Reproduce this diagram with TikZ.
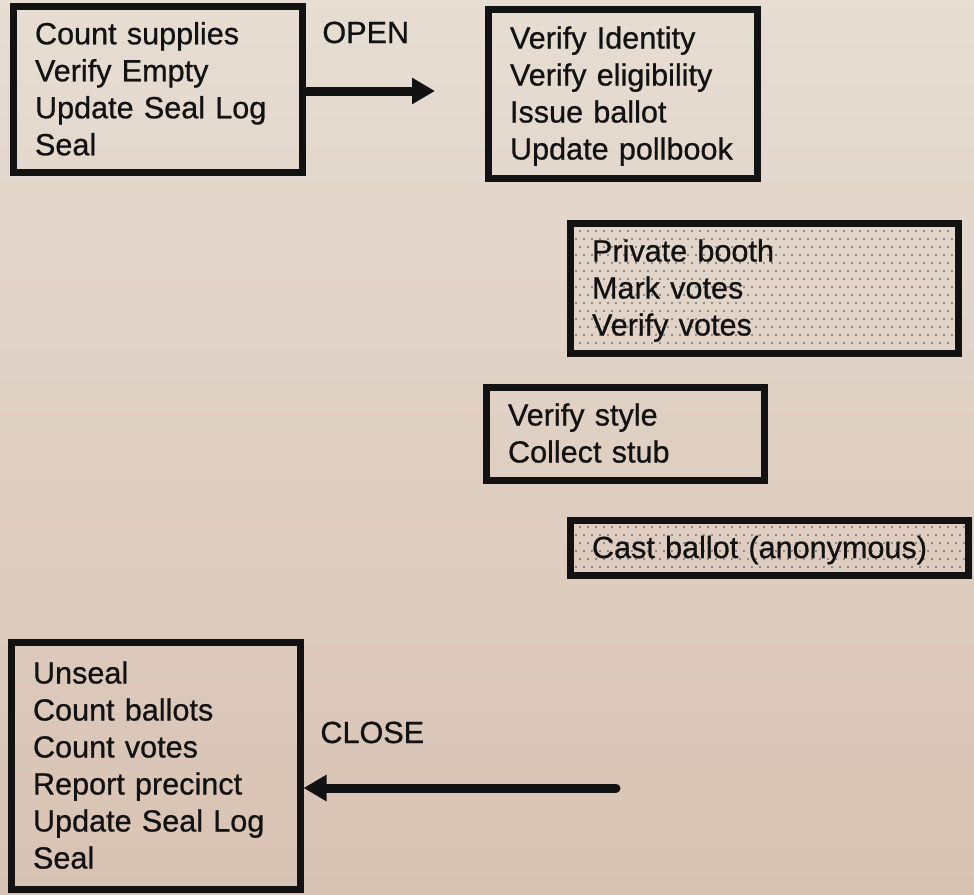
\documentclass[tikz,border=0pt]{standalone}
\usepackage{fontspec}
\setmainfont{Liberation Sans}
\newfontfamily\heavy{Liberation Sans}[FakeBold=0.7]
\usetikzlibrary{arrows.meta}
\definecolor{bgtop}{HTML}{E6DDD3}
\definecolor{bgbot}{HTML}{D8C2B3}
\definecolor{ink}{HTML}{121212}
\definecolor{dotc}{HTML}{7E736B}
\newcommand\ls{\rule[-4pt]{0pt}{18.5pt}}
\begin{document}
\begin{tikzpicture}[x=0.5pt,y=-0.5pt,
  box/.style={draw=ink, line width=3.5pt, align=left, inner xsep=11pt, inner ysep=0pt,
    text=ink, font=\heavy\fontsize{15.3}{18.5}\selectfont},
  lbl/.style={text=ink, inner sep=0pt, anchor=base west, font=\heavy\fontsize{15.3}{18.5}\selectfont},
  bigarrow/.style={draw=ink, line width=4.5pt, -{Triangle[length=11.5pt,width=12.5pt]}}]
\shade[top color=bgtop, bottom color=bgbot] (0,0) rectangle (974,894);
\useasboundingbox (0,0) rectangle (974,894);
% dotted fill of the shaded boxes
\begin{scope}
\clip (573.5,226.5) rectangle (954.5,349.5);
\foreach \y [count=\i] in {231,239,...,349} {
  \pgfmathsetmacro{\off}{mod(\i,2)*4}
  \foreach \x in {576,584,...,956} \fill[dotc] (\x+\off,\y) circle (0.6pt);
}
\end{scope}
\begin{scope}
\clip (573.5,523.5) rectangle (964.5,571.5);
\foreach \y [count=\i] in {527,535,...,571} {
  \pgfmathsetmacro{\off}{mod(\i,2)*4}
  \foreach \x in {576,584,...,966} \fill[dotc] (\x+\off,\y) circle (0.6pt);
}
\end{scope}
% boxes
\node[box, text width=122.5pt, minimum height=83.25pt] (open) at (157.5,89.25)
  {\ls Count supplies\\\ls Verify Empty\\\ls Update Seal Log\\\ls Seal};
\node[box, text width=112.5pt, minimum height=84.5pt] (checkin) at (622.5,93.5)
  {\ls Verify Identity\\\ls Verify eligibility\\\ls Issue ballot\\\ls Update pollbook};
\node[box, text width=172pt, minimum height=65pt] (booth) at (764,288)
  {\ls Private booth\\\ls Mark votes\\\ls Verify votes};
\node[box, text width=117pt, minimum height=46.5pt] (stub) at (625,433.5)
  {\ls Verify style\\\ls Collect stub};
\node[box, text width=177pt, minimum height=27.5pt] (cast) at (769,547.5)
  {\ls Cast ballot (anonymous)};
\node[box, text width=122.5pt, minimum height=123.5pt] (close) at (155.5,765.5)
  {\ls Unseal\\\ls Count ballots\\\ls Count votes\\\ls Report precinct\\\ls Update Seal Log\\\ls Seal};
% labels
\node[lbl] (openlbl) at (322,43) {OPEN};
\node[lbl] (closelbl) at (320,743) {CLOSE};
% arrows
\coordinate (openend) at (435,91);
\coordinate (closestart) at (616,788);
\draw[bigarrow] (open.east |- openend) -- (openend);
\draw[bigarrow, line cap=round] (closestart) -- (close.east |- closestart);
\end{tikzpicture}
\end{document}
